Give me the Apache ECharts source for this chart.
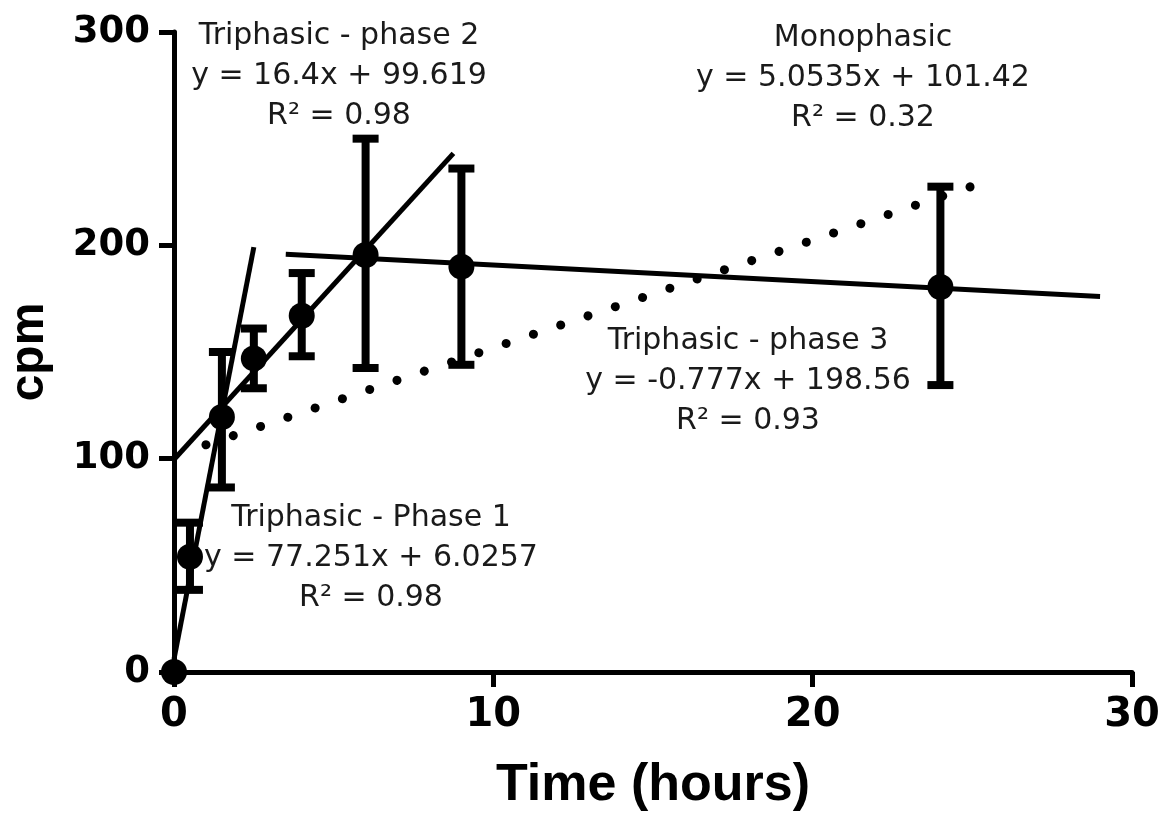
<!DOCTYPE html>
<html>
<head>
<meta charset="utf-8">
<title>cpm over time</title>
<script src="https://cdn.jsdelivr.net/npm/echarts@6/dist/echarts.min.js"></script>
<style>
  html, body { margin: 0; padding: 0; background: #fff; }
  #chart { width: 1163px; height: 821px; }
</style>
</head>
<body>
<div id="chart"></div>
<script>
// Sampling times (hours) and measured cpm with error-bar limits
const times = [0, 0.5, 1.5, 2.5, 4, 6, 9, 24];
const means = [0, 54, 119.5, 147, 167, 195.5, 190, 180.5];
const upper = [0, 70, 150, 161, 187, 250, 236, 227.5];
const lower = [0, 38.5, 86.5, 133, 148, 142.5, 144, 134.5];

// Axis ticks
const xTicks = [0, 10, 20, 30];
const yTicks = [0, 100, 200, 300];

// Regression fits: [slope, intercept, x start, x end]
const phase1 = [77.251, 6.0257, 0, 2.5];
const phase2 = [16.4, 99.619, 0, 8.75];
const phase3 = [-0.777, 198.56, 3.5, 29];
const mono = [5.0535, 101.42, 1.0, 25.3];

// Fit labels
const phase1Text = ['Triphasic - Phase 1', 'y = 77.251x + 6.0257', 'R² = 0.98'];
const phase2Text = ['Triphasic - phase 2', 'y = 16.4x + 99.619', 'R² = 0.98'];
const phase3Text = ['Triphasic - phase 3', 'y = -0.777x + 198.56', 'R² = 0.93'];
const monoText = ['Monophasic', 'y = 5.0535x + 101.42', 'R² = 0.32'];

function fitPoints(fit) {
  const [m, b, x0, x1] = fit;
  return [[x0, m * x0 + b], [x1, m * x1 + b]];
}

const points = times.map((t, i) => [t, means[i]]);
const bars = times.map((t, i) => [t, lower[i], upper[i]]).filter(d => d[2] > d[1]);

function fitSeries(fit, dotted) {
  return {
    type: 'line',
    data: fitPoints(fit),
    showSymbol: false,
    symbol: 'none',
    silent: true,
    z: 2,
    lineStyle: dotted
      ? { color: '#000', width: 9, type: [0.1, 28.7], cap: 'round' }
      : { color: '#000', width: 5, cap: 'butt' }
  };
}

const chart = echarts.init(document.getElementById('chart'), null, { renderer: 'canvas' });

const textStyleBase = {
  fontFamily: 'DejaVu Sans',
  fontSize: 30,
  lineHeight: 40,
  fill: '#1a1a1a',
  textAlign: 'center',
  textVerticalAlign: 'top'
};

function note(lines, x, y) {
  return {
    type: 'text',
    x: x,
    y: y,
    z: 10,
    style: Object.assign({}, textStyleBase, { text: lines.join('\n') })
  };
}

chart.setOption({
  animation: false,
  backgroundColor: '#fff',
  grid: { left: 174, right: 31, top: 32, bottom: 149, containLabel: false, outerBoundsMode: 'none' },
  xAxis: {
    type: 'value',
    min: xTicks[0],
    max: xTicks[xTicks.length - 1],
    interval: 10,
    name: 'Time (hours)',
    nameLocation: 'middle',
    nameGap: 88,
    nameTextStyle: { fontFamily: 'Liberation Sans', fontWeight: 'bold', fontSize: 52, color: '#000' },
    axisLine: { lineStyle: { color: '#000', width: 5 } },
    axisTick: { show: true, length: 15, lineStyle: { color: '#000', width: 5 } },
    axisLabel: { fontFamily: 'DejaVu Sans', fontWeight: 'bold', fontSize: 40, color: '#000', margin: 24 },
    splitLine: { show: false }
  },
  yAxis: {
    type: 'value',
    min: yTicks[0],
    max: yTicks[yTicks.length - 1],
    interval: 100,
    name: 'cpm',
    nameLocation: 'middle',
    nameGap: 120,
    nameRotate: 90,
    nameTextStyle: { fontFamily: 'Liberation Sans', fontWeight: 'bold', fontSize: 48, color: '#000' },
    axisLine: { lineStyle: { color: '#000', width: 5 } },
    axisTick: { show: true, length: 15, lineStyle: { color: '#000', width: 5 } },
    axisLabel: { fontFamily: 'DejaVu Sans', fontWeight: 'bold', fontSize: 37, color: '#000', margin: 24 },
    splitLine: { show: false }
  },
  series: [
    fitSeries(phase1, false),
    fitSeries(phase2, false),
    fitSeries(phase3, false),
    fitSeries(mono, true),
    {
      type: 'custom',
      data: bars,
      z: 3,
      silent: true,
      renderItem: function (params, api) {
        const x = api.value(0);
        const lo = api.coord([x, api.value(1)]);
        const hi = api.coord([x, api.value(2)]);
        const half = 13;
        const style = { stroke: '#000', lineWidth: 8 };
        return {
          type: 'group',
          children: [
            { type: 'line', shape: { x1: lo[0], y1: lo[1], x2: hi[0], y2: hi[1] }, style: style },
            { type: 'line', shape: { x1: hi[0] - half, y1: hi[1], x2: hi[0] + half, y2: hi[1] }, style: style },
            { type: 'line', shape: { x1: lo[0] - half, y1: lo[1], x2: lo[0] + half, y2: lo[1] }, style: style }
          ]
        };
      }
    },
    {
      type: 'scatter',
      data: points,
      symbol: 'circle',
      symbolSize: 26,
      z: 4,
      itemStyle: { color: '#000', opacity: 1 },
      silent: true
    }
  ],
  graphic: [
    note(phase2Text, 339, 16),
    note(monoText, 863, 18),
    note(phase3Text, 748, 321),
    note(phase1Text, 371, 498)
  ]
});
</script>
</body>
</html>
